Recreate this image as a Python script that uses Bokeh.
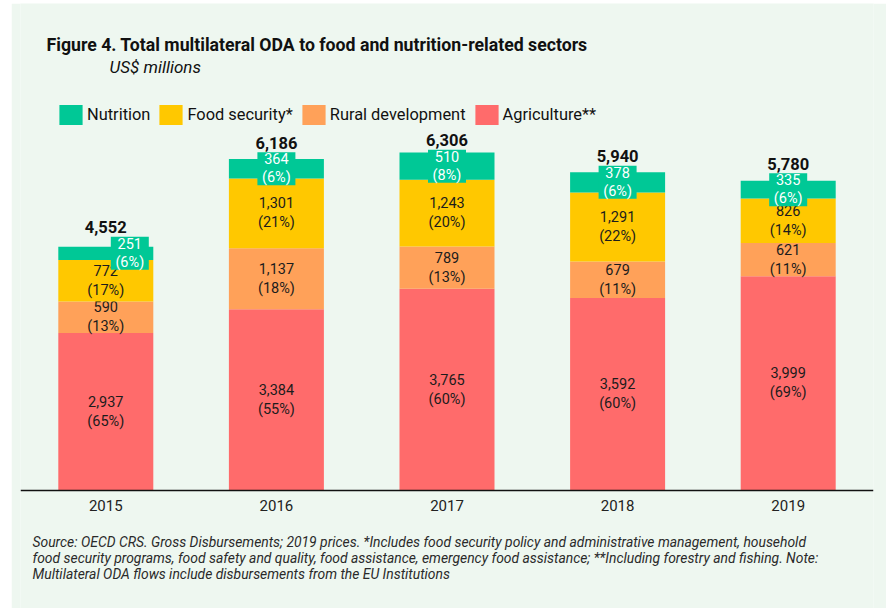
from bokeh.plotting import figure
from bokeh.models import ColumnDataSource, Range1d, Span, Legend, LegendItem, Spacer
from bokeh.layouts import column, row
from bokeh.embed import file_html
from bokeh.resources import INLINE
from bokeh.core.properties import value

# ---------------- data ----------------
years = ["2015", "2016", "2017", "2018", "2019"]
agriculture = [2937, 3384, 3765, 3592, 3999]
rural = [590, 1137, 789, 679, 621]
food = [772, 1301, 1243, 1291, 826]
nutrition = [251, 364, 510, 378, 335]
totals = [4552, 6186, 6306, 5940, 5780]
agriculture_pct = [65, 55, 60, 60, 69]
rural_pct = [13, 18, 13, 11, 11]
food_pct = [17, 21, 20, 22, 14]
nutrition_pct = [6, 6, 8, 6, 6]

title = "Figure 4. Total multilateral ODA to food and nutrition-related sectors"
subtitle = "US$ millions"
footer = [
    "Source: OECD CRS. Gross Disbursements; 2019 prices. *Includes food security policy and administrative management, household",
    "food security programs, food safety and quality, food assistance, emergency food assistance; **Including forestry and fishing. Note:",
    "Multilateral ODA flows include disbursements from the EU Institutions",
]

# ---------------- styles ----------------
BG = "#EEF7F0"
C_AGRI = "#FF6B6B"
C_RURAL = "#FFA159"
C_FOOD = "#FFC800"
C_NUT = "#00C896"
FONT = value("Roboto")

W, H = 875, 605
ML, MR = 9, 13
X0, X1 = -0.5, 4.5
Y0, Y1 = -2201, 9086
PPX = (W - ML - MR) / (X1 - X0)
PPY = H / (Y1 - Y0)
PAGE_X0, PAGE_Y0 = 11, 3


def dx(px):
    return X0 + (px - PAGE_X0 - ML) / PPX


def dy(py):
    return Y1 - (py - PAGE_Y0) / PPY


p = figure(width=W, height=H, x_range=Range1d(X0, X1), y_range=Range1d(Y0, Y1),
           x_axis_type=None, y_axis_type=None, toolbar_location=None,
           output_backend="svg", min_border_left=ML, min_border_right=MR,
           min_border_top=0, min_border_bottom=0,
           background_fill_color=BG, border_fill_color=BG, outline_line_color=None)

idx = list(range(len(years)))
stack = [
    ("Agriculture**", agriculture, agriculture_pct, C_AGRI),
    ("Rural development", rural, rural_pct, C_RURAL),
    ("Food security*", food, food_pct, C_FOOD),
    ("Nutrition", nutrition, nutrition_pct, C_NUT),
]

renderers = {}
bottom = [0] * len(years)
nut_src = None
for name, vals, pcts, color in stack:
    top = [b + v for b, v in zip(bottom, vals)]
    src = ColumnDataSource(dict(
        x=idx, bottom=bottom, top=top,
        mid=[(b + t) / 2 for b, t in zip(bottom, top)],
        label=[f"{v:,}\n({q}%)" for v, q in zip(vals, pcts)],
    ))
    r = p.vbar(x="x", bottom="bottom", top="top", width=95 / PPX, source=src,
               fill_color=color, line_color=None)
    renderers[name] = r
    if name != "Nutrition":
        p.text(x="x", y="mid", text="label", source=src, text_align="center",
               text_baseline="middle", text_font=FONT, text_font_size="14.5px",
               text_color="#1c1c1c", text_line_height=1.12)
    else:
        nut_src = src
    bottom = top

# nutrition labels in green boxes (first one nudged right)
nut_dx_px = [24, 0, 0, 0, 0]
nut_src.data["lx"] = [i + d / PPX for i, d in zip(idx, nut_dx_px)]
p.rect(x="lx", y="mid", width=38, height=33, width_units="screen", height_units="screen",
       source=nut_src, fill_color=C_NUT, line_color=None)
p.text(x="lx", y="mid", text="label", source=nut_src, text_align="center",
       text_baseline="middle", text_font=FONT, text_font_size="14.5px",
       text_color="white", text_line_height=1.05)

# totals
tot_src = ColumnDataSource(dict(x=idx, y=nut_src.data["mid"], t=[f"{v:,}" for v in totals]))
p.text(x="x", y="y", text="t", source=tot_src, y_offset=-26, text_align="center",
       text_baseline="middle", text_font=FONT, text_font_size="16.5px",
       text_font_style="bold", text_color="#111111")

# axis line and year labels
p.add_layout(Span(location=0, dimension="width", line_color="#111111", line_width=1.5))
p.text(x=idx, y=[dy(505)] * len(years), text=years, text_align="center",
       text_baseline="middle", text_font=FONT, text_font_size="15px", text_color="#222222")

# title / subtitle
p.text(x=[dx(46)], y=[dy(44)], text=[title], text_align="left", text_baseline="middle",
       text_font=FONT, text_font_size="17.7px", text_font_style="bold", text_color="#111111")
p.text(x=[dx(109)], y=[dy(66)], text=[subtitle], text_align="left", text_baseline="middle",
       text_font=FONT, text_font_size="17px", text_font_style="italic", text_color="#111111")

# footer
p.text(x=[dx(32)] * len(footer), y=[dy(541), dy(557), dy(573)], text=footer,
       text_align="left", text_baseline="middle", text_font=FONT, text_font_size="13.9px",
       text_font_style="italic", text_color="#2a2a2a")

# legend
legend = Legend(
    items=[LegendItem(label=n, renderers=[renderers[n]])
           for n in ["Nutrition", "Food security*", "Rural development", "Agriculture**"]],
    orientation="horizontal", location=(36, 481), glyph_width=29, glyph_height=25,
    label_standoff=2, spacing=6, padding=0, margin=0,
    background_fill_alpha=0, border_line_alpha=0,
    label_text_font="Roboto", label_text_font_size="16.4px", label_text_color="#111111",
)
p.add_layout(legend)

layout = column(Spacer(height=PAGE_Y0), row(Spacer(width=PAGE_X0), p))
open("out.html", "w").write(file_html(layout, INLINE))
